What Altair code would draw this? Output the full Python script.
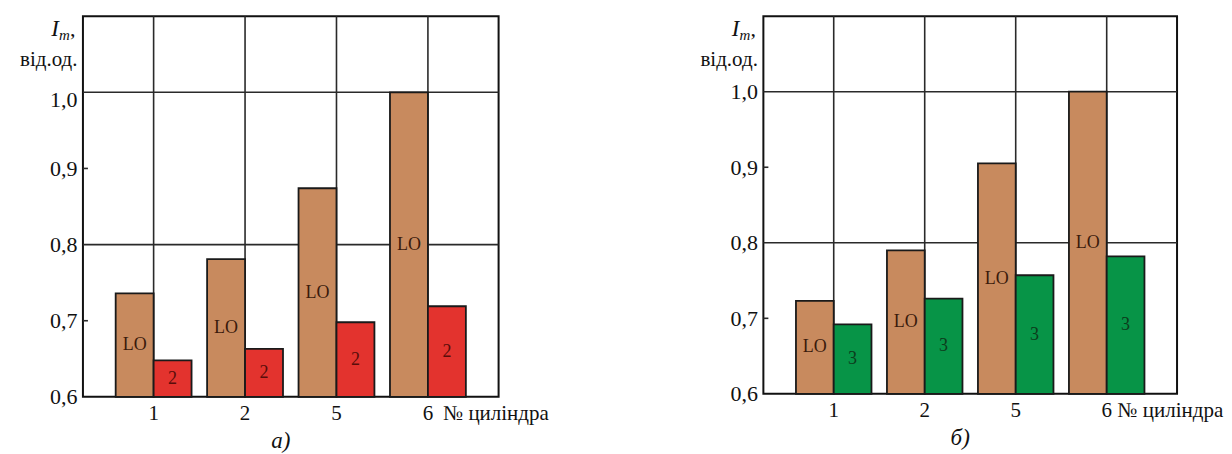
import altair as alt
import pandas as pd

cylinders = ["1", "2", "5", "6"]
lo_a = [0.736, 0.781, 0.874, 1.0]
s2_a = [0.648, 0.663, 0.698, 0.719]
lo_b = [0.723, 0.790, 0.905, 1.0]
s3_b = [0.692, 0.726, 0.757, 0.782]
y_ticks = [0.6, 0.7, 0.8, 0.9, 1.0]
grid_y = [0.8, 1.0]
minor_ticks = [0.7, 0.9]

FONT = "Liberation Serif"
BROWN = "#C88A5E"


def panel(lo, other, other_name, other_color, other_text_color, width, height,
          caption, x_title_x, ix, iy, top_label_shift):
    df = pd.DataFrame({
        "cyl": cylinders * 2,
        "series": ["LO"] * len(cylinders) + [other_name] * len(cylinders),
        "value": lo + other,
    })
    xscale = alt.Scale(domain=cylinders, paddingInner=0.17, paddingOuter=0.358)
    yscale = alt.Scale(domain=[0.6, 1.1], nice=False, zero=False)
    offscale = alt.Scale(domain=["LO", other_name], paddingInner=0, paddingOuter=0)

    xaxis = alt.Axis(labelAngle=0, ticks=False, domain=False, grid=False,
                     labelFont=FONT, labelFontSize=21, labelColor="#111",
                     labelPadding=6,
                     title="№ циліндра", titleFont=FONT, titleFontSize=21,
                     titleFontWeight="normal", titleColor="#111",
                     titleAlign="left", titleBaseline="middle",
                     titleX=x_title_x, titleY=17)
    yaxis = alt.Axis(values=y_ticks, ticks=False, domain=False, grid=False,
                     labelExpr="replace(format(datum.value, '.1f'), '.', ',')",
                     labelFont=FONT, labelFontSize=22, labelColor="#111",
                     labelPadding=6, minExtent=74, maxExtent=74,
                     labelOffset={"condition": {"test": "datum.value >= 1",
                                                "value": top_label_shift},
                                  "value": 0},
                     title="від.од.", titleAngle=0, titleFont=FONT,
                     titleFontSize=21, titleFontWeight="normal",
                     titleColor="#111", titleAlign="right",
                     titleBaseline="middle", titleX=-6, titleY=iy + 23)

    vgrid = alt.Chart(pd.DataFrame({"cyl": cylinders})).mark_rule(
        color="#2a2a2a", strokeWidth=1.6
    ).encode(x=alt.X("cyl:N", scale=xscale, sort=cylinders, axis=xaxis))

    hgrid = alt.Chart(pd.DataFrame({"value": grid_y})).mark_rule(
        color="#2a2a2a", strokeWidth=1.6
    ).encode(y=alt.Y("value:Q", scale=yscale, axis=yaxis))

    ticks = alt.Chart(pd.DataFrame({"value": minor_ticks})).mark_rule(
        color="#2a2a2a", strokeWidth=1.6
    ).encode(y=alt.Y("value:Q", scale=yscale, axis=yaxis), x=alt.value(0), x2=alt.value(5))

    bars = alt.Chart(df).mark_bar(stroke="#1a1a1a", strokeWidth=1.8).encode(
        x=alt.X("cyl:N", scale=xscale, sort=cylinders, axis=xaxis),
        xOffset=alt.XOffset("series:N", scale=offscale, sort=["LO", other_name]),
        y=alt.Y("value:Q", scale=yscale, axis=yaxis),
        y2=alt.datum(0.6),
        color=alt.Color("series:N", scale=alt.Scale(domain=["LO", other_name],
                                                    range=[BROWN, other_color]),
                        legend=None),
    )

    labels = alt.Chart(df).transform_calculate(
        value="(datum.value + 0.6) / 2"
    ).mark_text(font=FONT, fontSize=18).encode(
        x=alt.X("cyl:N", scale=xscale, sort=cylinders, axis=xaxis),
        xOffset=alt.XOffset("series:N", scale=offscale, sort=["LO", other_name]),
        y=alt.Y("value:Q", scale=yscale, axis=yaxis),
        text="series:N",
        color=alt.condition(alt.datum.series == "LO", alt.value("#3a1a0c"),
                            alt.value(other_text_color)),
    )

    one = pd.DataFrame({"a": [0]})
    t_i = alt.Chart(one).mark_text(text="I", font=FONT, fontStyle="italic", fontSize=23,
                                   align="right", baseline="alphabetic", color="#111"
                                   ).encode(x=alt.value(ix), y=alt.value(iy))
    t_m = alt.Chart(one).mark_text(text="m", font=FONT, fontStyle="italic", fontSize=15,
                                   align="left", baseline="alphabetic", color="#111"
                                   ).encode(x=alt.value(ix), y=alt.value(iy + 4))
    t_c = alt.Chart(one).mark_text(text=",", font=FONT, fontSize=22,
                                   align="left", baseline="alphabetic", color="#111"
                                   ).encode(x=alt.value(ix + 11), y=alt.value(iy))

    return alt.layer(vgrid, hgrid, ticks, bars, labels, t_i, t_m, t_c).properties(
        width=width, height=height,
        title=alt.TitleParams(caption, orient="bottom", anchor="middle", frame="group",
                              font=FONT, fontStyle="italic", fontSize=23,
                              fontWeight="normal", color="#111", dx=-10, offset=6),
    )


left = panel(lo_a, s2_a, "2", "#E3332E", "#5a0d0a", 416, 381, "а)", 360, -24, 20, 7)
right = panel(lo_b, s3_b, "3", "#079447", "#0c3d1c", 414, 378, "б)", 354, -24, 20, 0)

chart = alt.HConcatChart(hconcat=[left, right], spacing=265, bounds="flush").properties(
    padding={"left": 0, "top": 6, "right": 0, "bottom": 0}
).resolve_scale(
    x="independent", y="independent", color="independent", xOffset="independent"
).configure(
    background="white",
    font=FONT,
    view=alt.ViewConfig(stroke="#111111", strokeWidth=2),
    axis=alt.AxisConfig(labelFont=FONT, titleFont=FONT),
    text=alt.MarkConfig(font=FONT),
    title=alt.TitleConfig(font=FONT),
)

chart.save("out.html", embed_options={"renderer": "svg", "actions": False})
